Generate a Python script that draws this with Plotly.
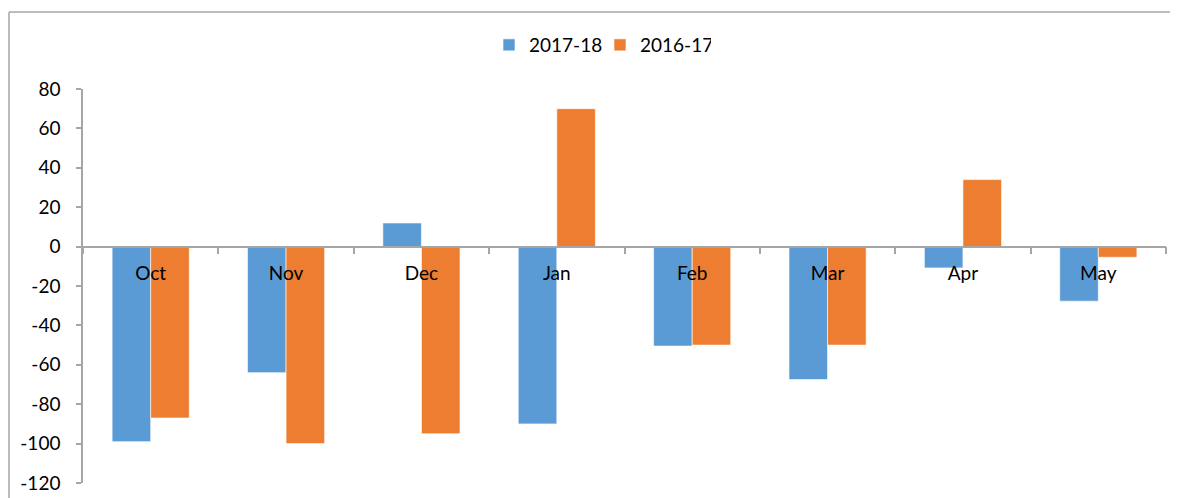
import plotly.graph_objects as go

months = ["Oct", "Nov", "Dec", "Jan", "Feb", "Mar", "Apr", "May"]
s_2017_18 = [-99, -64, 12, -90, -50.5, -67.5, -10.8, -27.7]
s_2016_17 = [-87, -100, -95, 70, -50, -50, 34, -5.4]
y_ticks = [80, 60, 40, 20, 0, -20, -40, -60, -80, -100, -120]

FONT = "Lato"
OFF = 8  # page body margin
W, H = 1178 - OFF, 498 - OFF
ml, mr, mt, mb = 83 - OFF, 12, 89 - OFF, 15
pw, ph = W - ml - mr, H - mt - mb

def px_x(x):
    return (x - OFF - ml) / pw

def px_y(y):
    return (H - mb - (y - OFF)) / ph

fig = go.Figure()
fig.add_trace(go.Bar(name="2017-18", x=months, y=s_2017_18,
                     marker=dict(color="#5B9BD5", line=dict(color="rgba(255,255,255,0.6)", width=1))))
fig.add_trace(go.Bar(name="2016-17", x=months, y=s_2016_17,
                     marker=dict(color="#ED7D31", line=dict(color="rgba(255,255,255,0.6)", width=1))))

fig.update_layout(
    width=W, height=H, autosize=False,
    margin=dict(l=ml, r=mr, t=mt, b=mb, autoexpand=False),
    paper_bgcolor="white", plot_bgcolor="white",
    font=dict(family=FONT, size=19, color="#000000"),
    barmode="group", bargap=0.43, bargroupgap=0,
    showlegend=True,
    legend=dict(orientation="h", x=px_x(489), xanchor="left", y=px_y(45), yanchor="middle",
                font=dict(size=19), itemwidth=30, entrywidth=66, entrywidthmode="pixels",
                traceorder="normal"),
    xaxis=dict(anchor="free", position=0.6, showline=True, linecolor="#A6A6A6", linewidth=1.5,
               ticks="outside", tickson="boundaries", ticklen=7, tickcolor="#A6A6A6", tickwidth=1.5,
               showgrid=False, zeroline=False, ticklabelstandoff=10, automargin=False,
               tickfont=dict(family=FONT, size=19, color="#000000")),
    yaxis=dict(range=[-120, 80], tickmode="array", tickvals=y_ticks, ticktext=[str(v) for v in y_ticks],
               showline=True, linecolor="#A6A6A6", linewidth=1.5, ticks="outside", ticklen=5,
               tickcolor="#A6A6A6", tickwidth=1.5, showgrid=False, zeroline=False, automargin=False,
               ticklabelstandoff=12, tickfont=dict(family=FONT, size=19, color="#000000")),
    shapes=[
        dict(type="line", xref="paper", yref="paper", x0=px_x(9), x1=px_x(1180), y0=px_y(12), y1=px_y(12),
             line=dict(color="#A6A6A6", width=1.5)),
        dict(type="line", xref="paper", yref="paper", x0=px_x(9), x1=px_x(9), y0=px_y(12), y1=px_y(500),
             line=dict(color="#A6A6A6", width=1.5)),
    ],
)

fig.write_html("out.html")
